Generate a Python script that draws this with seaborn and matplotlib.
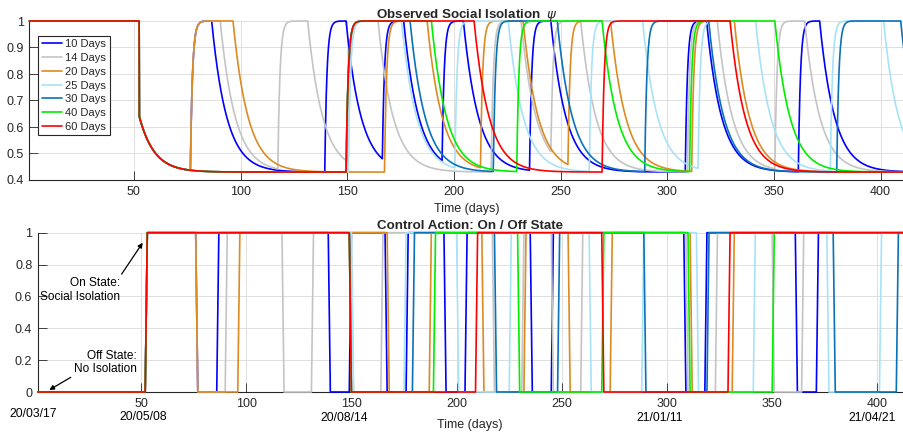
import numpy as np
import pandas as pd
import matplotlib
matplotlib.use("Agg")
import matplotlib.pyplot as plt
import matplotlib.transforms as mtransforms
from matplotlib.lines import Line2D
from matplotlib.ticker import FuncFormatter
import seaborn as sns

# Series names and colours
series = ["10 Days", "14 Days", "20 Days", "25 Days", "30 Days", "40 Days", "60 Days"]
colors = ["#0000ff", "#c4c4c4", "#dd8a22", "#a8e2f8", "#0a72b8", "#00ee00", "#ff0000"]

# Periods with isolation released (control = 0): (first day off, first day back on)
off_10 = [(77, 87), (140, 150), (167, 177), (195, 205), (236, 246), (309, 319), (362, 372)]
off_14 = [(77, 91), (118, 132), (151, 165), (218, 232), (246, 260), (310, 324), (351, 365)]
off_20 = [(77, 97), (168, 188), (213, 233), (254, 274), (312, 332)]
off_25 = [(151, 176), (201, 226), (264, 289), (315, 342), (377, 402)]
off_30 = [(150, 180), (219, 249), (290, 320), (380, 410)]
off_40 = [(150, 190), (230, 270), (311, 351)]
off_60 = [(150, 210), (270, 330)]
off_periods = [off_10, off_14, off_20, off_25, off_30, off_40, off_60]

control_start = 53   # first day with the controller on
last_day = 412

# isolation level response
psi_high = 1.0
psi_low = 0.43
psi_after_start = 0.64
tau_rise = 1.0
tau_fall = 7.0

date_labels = ["20/03/17", "20/05/08", "20/08/14", "21/01/11", "21/04/21"]

# ---- build long tables ----
days = np.arange(1, last_day + 1)
t = np.arange(1, last_day + 0.001, 0.05)
ctrl_rows, psi_rows = [], []
for name, offs in zip(series, off_periods):
    u = np.where(days < control_start, 0, 1)
    off = t < control_start - 0.5
    for a, b in offs:
        u[(days >= a) & (days < b)] = 0
        off |= (t >= a - 0.5) & (t < b - 0.5)
    ctrl_rows.append(pd.DataFrame({"day": days, "u": u, "series": name}))

    psi = np.empty_like(t)
    p = psi_high
    started = False
    for i in range(len(t)):
        if i > 0:
            dt = t[i] - t[i - 1]
            if off[i]:
                p = psi_high + (p - psi_high) * np.exp(-dt / tau_rise)
            elif not started:
                p = psi_after_start
                started = True
            else:
                p = psi_low + (p - psi_low) * np.exp(-dt / tau_fall)
        psi[i] = p
    psi_rows.append(pd.DataFrame({"t": t, "psi": psi, "series": name}))

df_ctrl = pd.concat(ctrl_rows, ignore_index=True)
df_psi = pd.concat(psi_rows, ignore_index=True)
pal = dict(zip(series, colors))

# ---- plot ----
sns.set_theme(style="white")
plt.rcParams["font.family"] = ["Liberation Sans", "DejaVu Sans"]
plt.rcParams["font.size"] = 9

fig = plt.figure(figsize=(9.04, 4.36), dpi=100)
ax1 = fig.add_axes([29.4 / 904, 256 / 436, 874.6 / 904, 159 / 436])
ax2 = fig.add_axes([37.9 / 904, 44 / 436, 864.7 / 904, 159.3 / 436])

sns.lineplot(data=df_psi, x="t", y="psi", hue="series", hue_order=series, palette=pal,
             estimator=None, sort=False, lw=1.2, legend=False, ax=ax1)
sns.lineplot(data=df_ctrl, x="day", y="u", hue="series", hue_order=series, palette=pal,
             estimator=None, sort=False, lw=1.2, legend=False, ax=ax2)

dark = "#262626"
fmt = FuncFormatter(lambda v, _: "%g" % round(v, 2))
for ax in (ax1, ax2):
    for ln in ax.get_lines():
        ln.set_clip_on(False)
        ln.set_zorder(3)
    ax.set_xticks(np.arange(50, 401, 50))
    ax.grid(True, color="#dedede", lw=0.7)
    ax.set_axisbelow(True)
    for s in ("top", "right"):
        ax.spines[s].set_visible(False)
    for s in ("left", "bottom"):
        ax.spines[s].set_color(dark)
        ax.spines[s].set_linewidth(0.8)
    ax.tick_params(direction="in", length=6.3, width=0.6, colors=dark, labelsize=9, pad=4,
                   left=True, bottom=True)
    ax.yaxis.set_major_formatter(fmt)

ax1.set_xlim(1, 411)
ax1.set_ylim(0.4, 1.0)
ax1.set_yticks(np.arange(0.4, 1.01, 0.1))
ax1.set_xlabel("Time (days)", fontsize=9, color=dark, labelpad=4)
ax1.set_ylabel("")
ax1.set_title(r"Observed Social Isolation  $\psi$", fontsize=9.6, fontweight="bold", pad=2.5)

ax2.set_xlim(1, 412)
ax2.set_ylim(0, 1)
ax2.set_yticks(np.arange(0, 1.01, 0.2))
ax2.set_xlabel("Time (days)", fontsize=9, color=dark, labelpad=7)
ax2.set_ylabel("")
ax2.set_title("Control Action: On / Off State", fontsize=9.6, fontweight="bold", pad=2.5)

handles = [Line2D([0], [0], color=c, lw=1.2) for c in colors]
leg = ax1.legend(handles, series, loc="upper left", bbox_to_anchor=(0.0102, 0.9075),
                 borderaxespad=0, fontsize=8, handlelength=1.8, handletextpad=0.3,
                 labelspacing=0.34, borderpad=0.32, fancybox=False, framealpha=1)
leg.get_frame().set_edgecolor(dark)
leg.get_frame().set_linewidth(0.8)

# annotations
ax2.text(40.0, 0.64, "On State:\nSocial Isolation", ha="right", va="center", fontsize=8.6,
         color="black", linespacing=1.15)
ax2.annotate("", xy=(50.8, 0.937), xytext=(40.8, 0.74),
             arrowprops=dict(arrowstyle="-|>", color="black", lw=0.9, mutation_scale=7,
                             shrinkA=0, shrinkB=0))
ax2.text(48.0, 0.185, "Off State:\nNo Isolation", ha="right", va="center", fontsize=8.6,
         color="black", linespacing=1.15)
ax2.annotate("", xy=(6.4, 0.0126), xytext=(16.6, 0.092),
             arrowprops=dict(arrowstyle="-|>", color="black", lw=0.9, mutation_scale=7,
                             shrinkA=0, shrinkB=0), annotation_clip=False)

trans = mtransforms.blended_transform_factory(ax2.transData, ax2.transAxes)
date_x = [-1.2, 51, 146.5, 296.5, 397.5]
date_y = [-0.135, -0.158, -0.163, -0.163, -0.163]
for lab, x, y in zip(date_labels, date_x, date_y):
    ax2.text(x, y, lab, transform=trans, ha="center", va="center", fontsize=8.7,
             color="black", clip_on=False)

fig.savefig("out.png", dpi=100)
